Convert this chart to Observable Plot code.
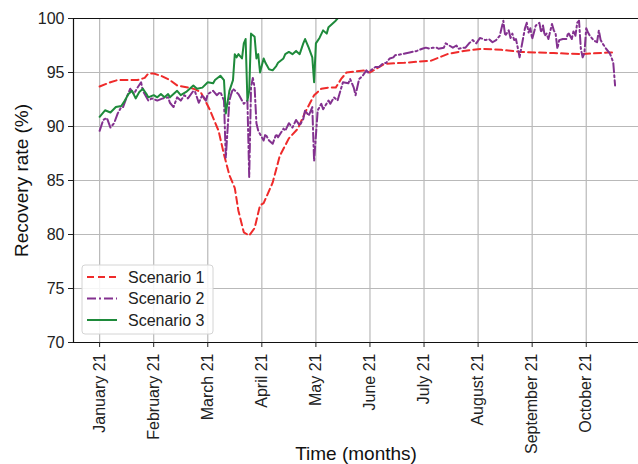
<!DOCTYPE html>
<html>
<head>
<meta charset="utf-8">
<script src="https://cdn.jsdelivr.net/npm/d3@7"></script>
<script src="https://cdn.jsdelivr.net/npm/@observablehq/plot@0.6"></script>
<style>
  html, body { margin: 0; padding: 0; background: #fff; overflow: hidden; }
</style>
</head>
<body>
<div id="chart"></div>
<script>
// ---- Data ----
const seriesNames = ["Scenario 1", "Scenario 2", "Scenario 3"];

const tickDays = [0, 30, 60, 90, 120, 150, 180, 210, 240, 270];
const tickLabels = ["January 21", "February 21", "March 21", "April 21", "May 21",
  "June 21", "July 21", "August 21", "September 21", "October 21"];
const yTicks = [70, 75, 80, 85, 90, 95, 100];

// Scenario 1 (smooth dashed red)
const days1 = [0, 6, 10, 15, 21, 25, 27, 30, 34, 39, 43, 49, 52, 56, 58, 61, 64, 66, 69, 72, 75, 77, 80, 83, 86, 89, 91, 96, 100, 105, 110, 114, 119, 123, 127, 131, 134, 137, 142, 147, 150, 158, 169, 184, 193, 202, 212, 223, 234, 252, 267, 282, 286];
const vals1 = [93.7, 94.1, 94.3, 94.3, 94.3, 94.5, 94.9, 94.9, 94.7, 94.3, 93.8, 93.6, 93.5, 93.2, 92.6, 91.6, 90.4, 89.6, 87.4, 85.5, 84.3, 82.2, 80.2, 79.9, 80.6, 82.7, 82.9, 84.8, 87.3, 88.9, 89.8, 91.3, 92.9, 93.5, 93.6, 93.6, 94.4, 95.0, 95.1, 95.2, 95.0, 95.8, 95.9, 96.1, 96.7, 97.0, 97.2, 97.1, 96.9, 96.8, 96.7, 96.85, 96.85];

// Scenario 2 (noisy dash-dot purple)
const days2 = [0, 2, 4, 6, 8, 10, 12, 13, 15, 17, 19, 21, 23, 24, 27, 29, 32, 35, 38, 39, 41, 43, 45, 47, 49, 52, 53, 55, 57, 59, 60, 63, 65, 67, 69, 70, 72, 73, 74, 77, 78, 80, 82, 83, 84, 85, 86, 87, 88, 91, 92, 94, 96, 98, 99, 102, 103, 105, 107, 109, 111, 113, 114, 116, 118, 119, 121, 123, 124, 127, 128, 130, 132, 135, 138, 139, 141, 142, 144, 146, 148, 149, 152, 153, 155, 157, 159, 161, 163, 164, 168, 172, 176, 179, 181, 183, 185, 187, 188, 191, 192, 194, 196, 198, 199, 202, 203, 205, 207, 209, 211, 213, 214, 216, 218, 220, 222, 224, 225, 227, 228, 229, 230, 231, 232, 233, 234, 236, 237, 238, 239, 240, 241, 242, 244, 245, 246, 247, 248, 249, 251, 252, 253, 254, 255, 257, 259, 260, 262, 263, 264, 265, 266, 267, 268, 269, 270, 271, 272, 274, 276, 277, 278, 279, 281, 283, 284, 285, 286];
const vals2 = [89.6, 90.6, 90.8, 89.9, 90.3, 91.2, 91.8, 91.8, 92.7, 93.5, 93.0, 93.6, 94.1, 93.3, 92.4, 92.6, 92.4, 92.6, 92.7, 92.2, 91.8, 92.7, 92.4, 92.9, 92.6, 93.3, 93.2, 92.2, 92.9, 92.4, 93.0, 93.3, 92.9, 93.2, 92.4, 87.1, 92.4, 93.0, 93.5, 93.0, 92.7, 92.1, 92.4, 85.3, 93.6, 94.5, 93.6, 90.3, 89.6, 88.7, 89.3, 88.7, 88.4, 89.3, 89.0, 89.8, 89.6, 90.3, 89.9, 90.6, 90.1, 90.7, 91.5, 91.0, 91.8, 86.8, 91.5, 92.1, 91.6, 92.4, 92.1, 92.7, 92.4, 94.1, 94.0, 94.4, 93.6, 92.9, 94.4, 94.7, 95.2, 95.0, 95.4, 95.5, 95.5, 95.8, 95.9, 96.3, 96.4, 96.6, 96.7, 96.85, 97.0, 97.2, 97.3, 97.2, 97.3, 97.3, 97.2, 97.3, 97.7, 97.5, 97.3, 97.5, 97.2, 97.3, 97.3, 97.7, 98.0, 97.7, 98.2, 98.1, 98.0, 98.1, 97.8, 98.0, 98.4, 99.8, 98.4, 98.9, 98.2, 98.6, 98.0, 98.1, 97.3, 96.4, 97.3, 99.1, 99.6, 98.7, 99.1, 98.1, 98.7, 99.35, 99.6, 98.7, 99.35, 98.4, 98.6, 98.1, 99.5, 98.9, 98.6, 97.2, 98.0, 98.1, 98.1, 98.7, 98.1, 98.9, 98.4, 99.6, 99.8, 97.2, 96.4, 96.8, 99.1, 98.7, 98.4, 98.0, 97.8, 98.9, 98.0, 97.7, 97.2, 96.8, 96.4, 95.9, 93.8];

// Scenario 3 (noisy solid green)
const days3 = [0, 3, 6, 9, 12, 14, 16, 18, 20, 22, 24, 26, 27, 30, 32, 34, 36, 38, 39, 41, 43, 45, 48, 50, 52, 54, 57, 60, 63, 64, 67, 69, 70, 72, 74, 75, 76, 77, 79, 80, 81, 82, 83, 84, 86, 87, 88, 89, 91, 92, 94, 96, 98, 99, 102, 103, 105, 107, 109, 111, 113, 114, 116, 118, 119, 120, 122, 124, 126, 127, 129, 131, 132];
const vals3 = [90.9, 91.5, 91.3, 91.8, 91.9, 92.4, 93.0, 93.3, 92.6, 93.2, 93.5, 93.0, 92.7, 92.9, 92.7, 93.0, 92.7, 93.0, 92.7, 93.0, 93.3, 92.9, 93.2, 93.5, 93.8, 93.5, 93.6, 94.1, 94.0, 94.3, 94.7, 94.3, 91.2, 93.3, 94.3, 96.7, 96.4, 96.7, 96.3, 97.7, 98.1, 92.4, 93.3, 98.6, 98.3, 96.3, 96.7, 95.0, 96.3, 95.9, 95.3, 95.2, 95.6, 95.9, 96.3, 96.7, 96.9, 96.7, 97.0, 96.7, 97.7, 98.1, 97.3, 96.4, 94.1, 97.7, 98.2, 98.9, 98.6, 99.2, 99.5, 99.8, 100.0];

// ---- Table built from the arrays ----
const toRows = (days, vals, name) => days.map((d, i) => ({day: d, value: vals[i], series: name}));
const s1 = toRows(days1, vals1, seriesNames[0]);
const s2 = toRows(days2, vals2, seriesNames[1]);
const s3 = toRows(days3, vals3, seriesNames[2]);

const colors = ["#ef2b2b", "#83318f", "#1e8a3b"];
const dashes = ["7,4", "9,3,2,3", null];

const xDomain = [-14.5, 299];
const yDomain = [70, 100];
const gridColor = "#b9b9b9";
const font = "Liberation Sans, Arial, sans-serif";

const svg = Plot.plot({
  width: 638,
  height: 464,
  marginLeft: 73,
  marginRight: 0,
  marginTop: 18,
  marginBottom: 122,
  style: {fontFamily: font, fontSize: "16px", color: "#222", background: "#fff"},
  x: {type: "linear", domain: xDomain},
  y: {domain: yDomain},
  marks: [
    Plot.gridX(tickDays, {stroke: gridColor, strokeOpacity: 1, strokeWidth: 1.2}),
    Plot.gridY(yTicks, {stroke: gridColor, strokeOpacity: 1, strokeWidth: 1.2}),
    Plot.line(s1, {x: "day", y: "value", stroke: colors[0], strokeWidth: 2, strokeDasharray: dashes[0], clip: true}),
    Plot.line(s2, {x: "day", y: "value", stroke: colors[1], strokeWidth: 2, strokeDasharray: dashes[1], clip: true}),
    Plot.line(s3, {x: "day", y: "value", stroke: colors[2], strokeWidth: 2, clip: true}),
    Plot.ruleY([yDomain[1]], {stroke: "#111", strokeWidth: 1.2}),
    Plot.ruleY([yDomain[0]], {stroke: "#111", strokeWidth: 1.2}),
    Plot.ruleX([xDomain[0]], {stroke: "#111", strokeWidth: 1.2}),
    Plot.axisX({
      ticks: tickDays,
      tickFormat: d => tickLabels[tickDays.indexOf(d)],
      tickRotate: -90,
      tickSize: 5,
      tickPadding: 6,
      label: null,
      fontSize: 16
    }),
    Plot.axisY({
      ticks: yTicks,
      tickSize: 5,
      tickPadding: 4,
      label: null,
      fontSize: 16
    }),
    Plot.text(["Time (months)"], {
      text: d => d, frameAnchor: "bottom", dy: 111,
      textAnchor: "middle", lineAnchor: "middle",
      fontFamily: font, fontSize: 19, fill: "#111"
    }),
    Plot.text(["Recovery rate (%)"], {
      text: d => d, frameAnchor: "left", dx: -51.5, rotate: -90,
      textAnchor: "middle", lineAnchor: "middle",
      fontFamily: font, fontSize: 19, fill: "#111"
    })
  ]
});

// ---- Legend (matplotlib-style box, lower left) ----
const lg = d3.select(svg).append("g").attr("transform", "translate(82,265)");
lg.append("rect")
  .attr("width", 131).attr("height", 69).attr("rx", 3)
  .attr("fill", "white").attr("fill-opacity", 0.85)
  .attr("stroke", "#d4d4d4").attr("stroke-width", 1);
seriesNames.forEach((name, i) => {
  const y = 12 + i * 21.5;
  const ln = lg.append("line")
    .attr("x1", 5).attr("x2", 35).attr("y1", y).attr("y2", y)
    .attr("stroke", colors[i]).attr("stroke-width", 2);
  if (dashes[i]) ln.attr("stroke-dasharray", dashes[i]);
  lg.append("text")
    .attr("x", 46).attr("y", y).attr("dy", "0.36em")
    .attr("text-anchor", "start")
    .attr("font-family", font).attr("font-size", 16)
    .attr("fill", "#222")
    .text(name);
});

document.getElementById("chart").appendChild(svg);
</script>
</body>
</html>
